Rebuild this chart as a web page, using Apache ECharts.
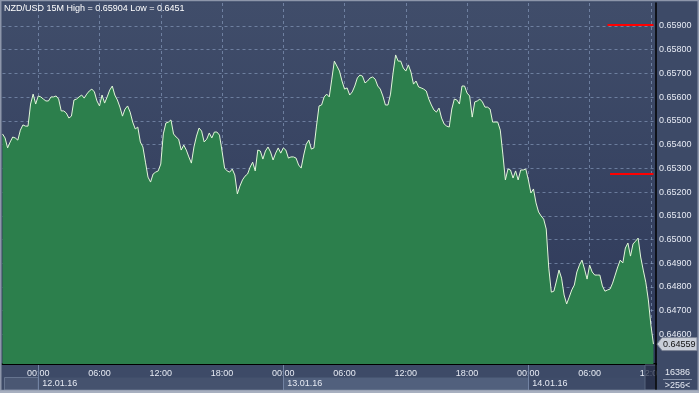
<!DOCTYPE html>
<html><head><meta charset="utf-8">
<script src="https://cdn.jsdelivr.net/npm/echarts@6/dist/echarts.min.js"></script>
<style>html,body{margin:0;padding:0;background:#3d4a67;}#c{width:699px;height:393px;}</style>
</head><body><div id="c"></div>
<script>
const chartTitle = 'NZD/USD 15M High = 0.65904 Low = 0.6451';
const firstBarUTC = Date.UTC(2016, 0, 11, 20, 30);
const barMinutes = 15;
const slotCount = 257; // 256 bars + one empty slot at the right edge
const closes = [
0.65445,0.65428,0.65386,0.65411,0.65432,0.65428,0.65419,0.65461,0.65483,0.65478,
0.65478,0.65571,0.65613,0.65571,0.65605,0.65601,0.65592,0.65584,0.65584,0.65601,
0.65601,0.65605,0.65592,0.65542,0.65542,0.65533,0.65512,0.6552,0.65588,0.65592,
0.65601,0.65609,0.65596,0.65613,0.65626,0.65634,0.65622,0.65584,0.65563,0.65609,
0.65575,0.65601,0.6563,0.65647,0.65609,0.65588,0.65558,0.6552,0.6555,0.65563,
0.65537,0.65495,0.65466,0.65474,0.65411,0.6539,0.65326,0.65263,0.65242,0.65276,
0.65284,0.65289,0.65318,0.65445,0.65491,0.65495,0.65504,0.65445,0.65432,0.65423,
0.65377,0.65398,0.65377,0.65348,0.65322,0.6539,0.65436,0.6547,0.65457,0.65411,
0.65423,0.65449,0.65428,0.65453,0.65453,0.6544,0.65373,0.65301,0.65289,0.65284,
0.65297,0.65272,0.65192,0.65225,0.65251,0.65267,0.65276,0.65305,0.65326,0.65289,
0.65377,0.65373,0.65339,0.65373,0.6539,0.65369,0.65335,0.65364,0.65386,0.65364,
0.65386,0.65377,0.65343,0.65348,0.65348,0.65343,0.65314,0.65301,0.65356,0.65402,
0.65419,0.65381,0.65386,0.65478,0.65563,0.65567,0.65601,0.65613,0.65601,0.65676,
0.65752,0.65731,0.6571,0.65668,0.65634,0.65639,0.65609,0.65622,0.65647,0.65681,
0.65693,0.65689,0.6566,0.65668,0.65681,0.65685,0.65676,0.65647,0.65634,0.65605,
0.65567,0.65567,0.65613,0.65702,0.65778,0.65752,0.65752,0.65723,0.6571,0.65736,
0.65706,0.65655,0.65668,0.65643,0.65639,0.65634,0.65626,0.65592,0.65567,0.65546,
0.65537,0.65554,0.65512,0.65487,0.65478,0.65474,0.6555,0.65592,0.65588,0.65571,
0.65647,0.65647,0.65617,0.65605,0.65516,0.6558,0.65584,0.65592,0.6558,0.65558,
0.65558,0.6555,0.65495,0.65495,0.65495,0.65461,0.6536,0.65251,0.65297,0.65293,
0.65259,0.65289,0.65251,0.65293,0.65293,0.65297,0.65251,0.65196,0.65213,0.65154,
0.65116,0.65099,0.65086,0.65044,0.64879,0.64778,0.64782,0.64825,0.64871,0.64837,
0.64766,0.64728,0.64757,0.64787,0.64808,0.64863,0.64892,0.64913,0.64875,0.64833,
0.64892,0.64863,0.6485,0.6485,0.6485,0.64804,0.64782,0.64787,0.64791,0.64816,
0.6485,0.64884,0.64913,0.64901,0.64964,0.64985,0.6493,0.64981,0.64993,0.65006,
0.64926,0.64871,0.6482,0.64745,0.64639,0.64559
];
const yTicks = [0.646,0.647,0.648,0.649,0.650,0.651,0.652,0.653,0.654,0.655,0.656,0.657,0.658,0.659];
const yMin = 0.64475, yMax = 0.65997;
const highLevel = 0.65904;
const refLevel = 0.65276;
const highLineFrom = '14.01.16 07:45', refLineFrom = '14.01.16 08:00', levelLineTo = '14.01.16 12:15';
const lastPrice = 0.64559;
const footerTop = '16386', footerBottom = '>256<';

const pad = n => String(n).padStart(2, '0');
const categories = [];
for (let i = 0; i < slotCount; i++) {
  const d = new Date(firstBarUTC + i * barMinutes * 60000);
  categories.push(pad(d.getUTCDate()) + '.' + pad(d.getUTCMonth() + 1) + '.' + String(d.getUTCFullYear()).slice(2) + ' ' + pad(d.getUTCHours()) + ':' + pad(d.getUTCMinutes()));
}
const isSixHour = (idx, val) => { const t = val.slice(9); return t.slice(3) === '00' && (+t.slice(0, 2)) % 6 === 0; };
const isDayStart = (idx, val) => val.slice(9) === '00:00';

const FONT = 'Liberation Sans';
const txt = '#e6eaf3';
const gridLine = { show: true, lineStyle: { color: 'rgba(150,172,205,0.55)', type: [3, 3], width: 1 } };

const chart = echarts.init(document.getElementById('c'), null, { renderer: 'canvas', width: 699, height: 393 });
const option = {
  animation: false,
  backgroundColor: '#3d4a67',
  title: { text: chartTitle, left: 4, top: 4, padding: 0, textStyle: { fontFamily: FONT, fontSize: 9, fontWeight: 'normal', color: '#ffffff' } },
  grid: { left: 2.5, right: 43, top: 3, bottom: 29, show: true, borderWidth: 0,
    backgroundColor: new echarts.graphic.LinearGradient(0, 0, 0, 1, [{ offset: 0, color: '#404d6a' }, { offset: 1, color: '#2e3959' }]) },
  xAxis: [{
    type: 'category', data: categories, boundaryGap: false,
    axisLine: { show: true, lineStyle: { color: '#000', width: 2 } },
    axisTick: { show: false },
    axisLabel: { interval: isSixHour, formatter: v => v.slice(9), color: txt, fontFamily: FONT, fontSize: 9, margin: 5 },
    splitLine: Object.assign({ interval: isSixHour }, gridLine)
  }, {
    type: 'category', data: categories, boundaryGap: false, position: 'bottom', offset: 10.5,
    axisLine: { show: false }, axisTick: { show: false }, splitLine: { show: false },
    axisLabel: { interval: isDayStart, formatter: v => v.slice(0, 8), color: txt, fontFamily: FONT, fontSize: 9, align: 'left', padding: [0, 0, 0, 8], margin: 5 }
  }],
  yAxis: {
    type: 'value', position: 'right', min: yMin, max: yMax, scale: true,
    axisLine: { show: true, lineStyle: { color: '#000', width: 1.5 } },
    axisTick: { show: false, customValues: yTicks },
    axisLabel: { customValues: yTicks, formatter: v => v.toFixed(5), color: txt, fontFamily: FONT, fontSize: 9, margin: 3 },
    splitLine: gridLine
  },
  series: [{
    type: 'line', data: closes, showSymbol: false, symbol: 'none',
    lineStyle: { color: '#e2f7da', width: 1 },
    areaStyle: { color: '#2c7f4c', opacity: 1, origin: 'start' },
    z: 1,
    markLine: {
      silent: true, symbol: ['none', 'none'], label: { show: false },
      lineStyle: { color: '#ff0000', width: 2, type: 'solid' },
      data: [
        [{ coord: [highLineFrom, highLevel] }, { coord: [levelLineTo, highLevel] }],
        [{ coord: [refLineFrom, refLevel] }, { coord: [levelLineTo, refLevel] }]
      ]
    }
  }]
};
chart.setOption(option);

// decorations placed through the library's own scales
const px = v => chart.convertToPixel({ xAxisIndex: 0 }, v);
const py = v => chart.convertToPixel({ yAxisIndex: 0 }, v);
const dayStarts = categories.filter((c, i) => isDayStart(i, c));
const xLeft = px(categories[0]);
const xRight = px(categories[slotCount - 1]);
const xCut = xRight - 11;
const bandColors = ['#4a5773', '#45526e', '#51607d', '#3f4c69'];
const edges = [xLeft + 2].concat(dayStarts.map(px)).concat([xCut]);
const g = [];
for (let k = 0; k < edges.length - 1; k++) {
  g.push({ type: 'rect', z: 90, shape: { x: edges[k], y: 377.5, width: edges[k + 1] - edges[k], height: 12.5 },
    style: { fill: bandColors[k], stroke: k === 0 ? '#66748f' : null, lineWidth: 1 } });
}
dayStarts.forEach(c => {
  const x = Math.round(px(c)) + 0.5;
  g.push({ type: 'line', z: 95, shape: { x1: x, y1: 365, x2: x, y2: 390 }, style: { stroke: '#7283a3', lineWidth: 1 } });
});
// redraw date texts above bands
dayStarts.forEach(c => {
  g.push({ type: 'text', z: 96, x: px(c) + 4, y: 383.5, style: { text: c.slice(0, 8), fill: txt, font: '9px ' + FONT, verticalAlign: 'middle', align: 'left' } });
});
g.push({ type: 'rect', z: 97, shape: { x: xCut, y: 365, width: xRight - xCut, height: 25 }, style: { fill: 'rgba(34,43,68,0.72)', stroke: '#56647f', lineWidth: 1 } });
g.push({ type: 'rect', z: 98, shape: { x: xRight + 1, y: 365, width: 699 - xRight - 1, height: 28 }, style: { fill: '#3d4a67' } });
g.push({ type: 'line', z: 99, shape: { x1: xRight, y1: 364, x2: xRight, y2: 391 }, style: { stroke: '#000', lineWidth: 1.5 } });
g.push({ type: 'text', z: 99, x: (xRight + 699) / 2, y: 373, style: { text: footerTop, fill: txt, font: '9px ' + FONT, align: 'center', verticalAlign: 'middle' } });
g.push({ type: 'line', z: 99, shape: { x1: xRight + 7, y1: 379.5, x2: 692, y2: 379.5 }, style: { stroke: '#8a95ab', lineWidth: 1 } });
g.push({ type: 'text', z: 99, x: (xRight + 699) / 2, y: 385.5, style: { text: footerBottom, fill: txt, font: '9px ' + FONT, align: 'center', verticalAlign: 'middle' } });
// last price tag
const yp = py(lastPrice);
g.push({ type: 'polygon', z: 99, shape: { points: [[xRight + 1, yp], [xRight + 6, yp - 6.5], [697, yp - 6.5], [697, yp + 6.5], [xRight + 6, yp + 6.5]] },
  style: { fill: '#c9ced8', stroke: '#7c8496', lineWidth: 1 } });
g.push({ type: 'text', z: 100, x: xRight + 7, y: yp + 0.5, style: { text: lastPrice.toFixed(5), fill: '#101010', font: '9px ' + FONT, align: 'left', verticalAlign: 'middle' } });
// outer frame
g.push({ type: 'rect', z: 100, shape: { x: 0.75, y: 0.5, width: 697.5, height: 390 }, style: { fill: null, stroke: '#8d96aa', lineWidth: 1.5 } });
g.push({ type: 'rect', z: 100, shape: { x: 0, y: 390.5, width: 699, height: 2.5 }, style: { fill: '#a7afbf' } });
chart.setOption({ graphic: { elements: g } });
</script></body></html>
